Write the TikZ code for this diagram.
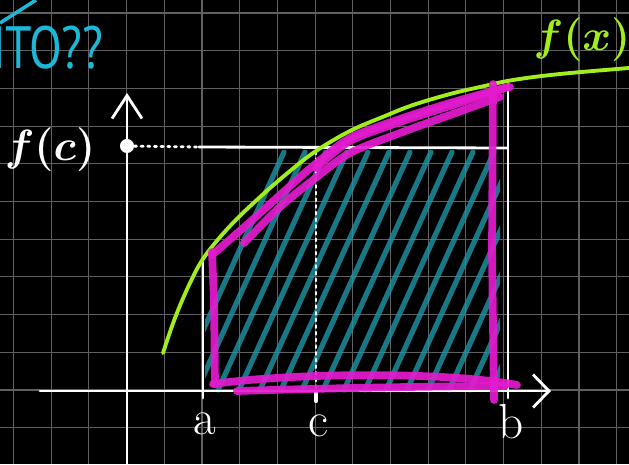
\documentclass[tikz,border=0pt]{standalone}
\usepackage{fontspec}
\usepackage{xcolor}
\usepackage{tikz}
\usetikzlibrary{arrows.meta}
\newfontfamily\cyrfont[FakeStretch=0.8]{PT Sans}
\definecolor{boardGray}{HTML}{606060}
\definecolor{curveGreen}{HTML}{A2EE1C}
\definecolor{areaPink}{HTML}{E41BCF}
\definecolor{hatchCyan}{HTML}{1E97A8}
\definecolor{noteCyan}{HTML}{1CB8D8}

\begin{document}
\begin{tikzpicture}[
  x=0.02cm, y=-0.02cm,
  every node/.style={text=white, inner sep=0pt, font=\fontsize{28}{30}\selectfont},
  mathlabel/.style={font=\fontsize{27}{30}\selectfont\boldmath},
  gridline/.style={boardGray, line width=0.6pt},
  axis/.style={white, line width=1.6pt, line cap=round},
  guide/.style={white, line width=1.6pt, dash pattern=on 1.2pt off 2.6pt, line cap=round},
  hatch/.style={hatchCyan, line width=3pt, opacity=0.8, line cap=round},
  curve/.style={curveGreen, line width=2.2pt, line cap=round},
  marker/.style={areaPink, line width=4.4pt, opacity=0.92, line cap=round, line join=round},
  dot/.style={circle, fill=white, minimum size=8pt},
]

% Board
\fill[black] (0,0) rectangle (629,464);
\clip (0,0) rectangle (629,464);
\foreach \i in {0,...,16}
  \draw[gridline] ({13.5+37.7*\i},0) -- ({13.5+37.7*\i},464);
\foreach \j in {0,...,11}
  \draw[gridline] (0,{13+37.7*\j}) -- (629,{13+37.7*\j});

% Points
\coordinate (xStart) at (40,391);
\coordinate (xEnd) at (551,391);
\coordinate (yStart) at (127,464);
\coordinate (yEnd) at (127,93);
\coordinate (aTop) at (203,262);
\coordinate (aBot) at (203,398);
\coordinate (bTop) at (508,84);
\coordinate (bBot) at (508,398);
\coordinate (cTop) at (316,152);
\coordinate (cBot) at (316,392);
\coordinate (cTick) at (316,401);
\coordinate (fcLeft) at (199,147);
\coordinate (fcRight) at (507,148);

% Hatched rectangle
\begin{scope}
  \clip (205,150) rectangle (500,392);
  \foreach \x in {176,197,...,500}
    \draw[hatch] (\x,390) -- ++(108,-238);
\end{scope}

% Axes
\draw[axis, -{Straight Barb[length=0.32cm, width=0.66cm]}] (xStart) -- (xEnd);
\draw[axis, -{Straight Barb[length=0.46cm, width=0.6cm]}] (yStart) -- (yEnd);

% Rectangle a..b, f(c)
\draw[axis] (aBot) -- (aTop);
\draw[axis] (bBot) -- (bTop);
\draw[axis] (fcLeft) -- (fcRight);
\draw[guide] (cTop) -- (cBot);
\draw[axis, line width=2.4pt] (cBot) -- (cTick);

\node[dot] (fcDot) at (127,146) {};
\draw[guide] (fcDot) -- (fcLeft);

% f(x)
\draw[curve] plot[smooth, tension=0.6] coordinates {(163,353) (175,318) (190,283) (205,256)
  (230,226) (260,197) (290,171) (316,151) (350,131) (385,116) (413,105) (450,94)
  (480,87) (513,80) (560,74) (629,68)};

% Area under the curve
\draw[marker] (212,252) -- (214,300) -- (215,384);
\draw[marker] (213,384) .. controls (300,372) and (450,372) .. (517,385);
\draw[marker] (237,391) .. controls (330,388) and (450,386) .. (505,386);
\draw[marker] (493,84) -- (492,250) -- (494,400);
\draw[marker] plot[smooth] coordinates {(212,255) (250,222) (280,195) (313,166)
  (350,138) (400,119) (450,103) (500,89) (510,87)};
\draw[marker] plot[smooth] coordinates {(244,243) (280,207) (313,180) (350,153)
  (400,133) (450,115) (500,97)};
\draw[marker] plot[smooth] coordinates {(316,168) (350,141) (400,122) (450,106) (505,88)};

% Labels
\node[mathlabel] (fcLabel) at (50,150) {$f(c)$};
\node[mathlabel, text=curveGreen, font=\fontsize{24}{26}\selectfont\boldmath] (fxLabel) at (582,40) {$f(x)$};
\node (aLabel) at (205,424) {a};
\node (cLabel) at (318,426) {c};
\node (bLabel) at (511,422) {b};
\node[text=noteCyan, anchor=east, font=\cyrfont\fontsize{34}{36}\selectfont] (note) at (104,48) {ЧТО??};
\draw[noteCyan, line width=2pt] (0,23) -- (36,0);

\end{tikzpicture}
\end{document}
